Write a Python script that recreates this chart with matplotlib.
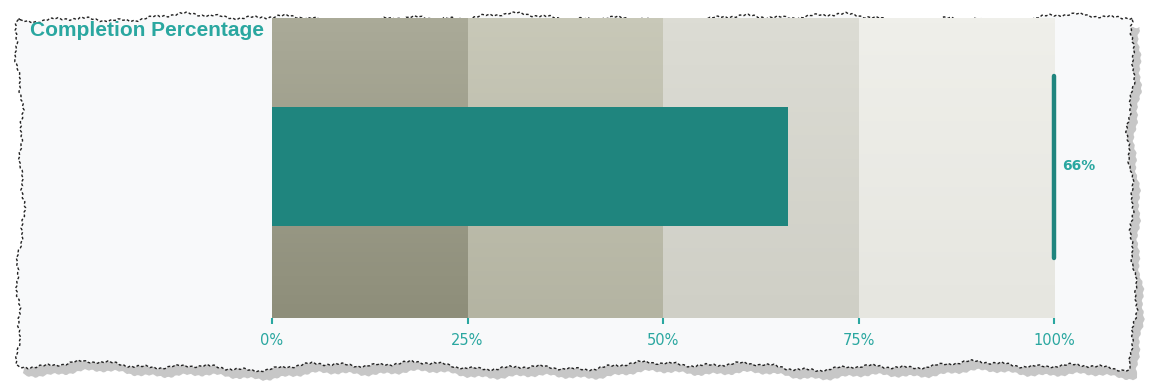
import matplotlib
matplotlib.use('Agg')
import matplotlib.pyplot as plt
import numpy as np
from matplotlib.patches import Polygon

# data
title = 'Completion Percentage'
band_edges = [0, 25, 50, 75, 100]
band_top = ['#aaaa98', '#c8c8b8', '#dcdcd4', '#efefea']
band_bottom = ['#8e8e7a', '#b4b4a2', '#cfcfc6', '#e6e6e0']
value = 66
target = 100
tick_values = [0, 25, 50, 75, 100]
tick_labels = ['0%', '25%', '50%', '75%', '100%']

TEAL = '#1f857e'
TEXT = '#2aa7a0'

W, H = 1151, 392
fig = plt.figure(figsize=(W / 100, H / 100), dpi=100)
fig.patch.set_facecolor('white')


def wiggle(t, seed):
    """Deterministic jagged edge for the torn-paper frame."""
    return (2.5 * np.sin(t * 0.021 + seed) + 2.0 * np.sin(t * 0.057 + 2 * seed)
            + 1.2 * np.sin(t * 0.19 + 3 * seed) + 0.8 * np.sin(t * 0.83 + seed))


def frame_path(x0, y0, x1, y1):
    xs = np.arange(x0, x1, 2.0)
    ys = np.arange(y0, y1, 2.0)
    top = np.column_stack([xs, y0 + wiggle(xs, 0.3)])
    right = np.column_stack([x1 + wiggle(ys, 1.7), ys])
    bottom = np.column_stack([xs[::-1], y1 + wiggle(xs[::-1], 2.9)])
    left = np.column_stack([x0 + wiggle(ys[::-1], 4.1), ys[::-1]])
    pts = np.vstack([top, right, bottom, left])
    pts[:, 0] /= W
    pts[:, 1] = 1 - pts[:, 1] / H
    return pts


pts = frame_path(20, 18, 1132, 366)
shadow = pts.copy()
shadow[:, 0] += 7 / W
shadow[:, 1] -= 9 / H
fig.patches.append(Polygon(shadow, closed=True, transform=fig.transFigure,
                           facecolor='#9a9a9a', edgecolor='none', alpha=0.55, zorder=-2))
fig.patches.append(Polygon(pts, closed=True, transform=fig.transFigure,
                           facecolor='#f8f9fa', edgecolor='#222222', linewidth=1.0,
                           linestyle=(0, (2, 1.5)), zorder=-1))

ax = fig.add_axes([272 / W, 1 - 318 / H, (1054 - 272) / W, 300 / H])
ax.set_zorder(5)
ax.set_facecolor('none')
ax.set_xlim(0, 100)
ax.set_ylim(0, 1)

for i in range(len(band_edges) - 1):
    c0 = np.array(matplotlib.colors.to_rgb(band_top[i]))
    c1 = np.array(matplotlib.colors.to_rgb(band_bottom[i]))
    grad = np.linspace(0, 1, 64)[:, None, None]
    img = c0 * (1 - grad) + c1 * grad
    ax.imshow(img, extent=[band_edges[i], band_edges[i + 1], 0, 1],
              aspect='auto', origin='upper', zorder=1)

ax.barh(0.505, value, height=0.397, left=0, color=TEAL, zorder=3)
ax.plot([target, target], [0.2, 0.807], color=TEAL, linewidth=3.2,
        solid_capstyle='round', zorder=4, clip_on=False)
ax.annotate(f'{value}%', xy=(target, 0.505), xytext=(6, 0), textcoords='offset points',
            ha='left', va='center', color=TEXT, fontsize=10, fontweight='bold',
            family='DejaVu Sans', annotation_clip=False)

ax.set_xticks(tick_values)
ax.set_xticklabels(tick_labels, color=TEXT, fontsize=10.5, family='DejaVu Sans')
ax.tick_params(axis='x', colors=TEXT, length=4, width=1.5, pad=7)
ax.set_yticks([])
for s in ax.spines.values():
    s.set_visible(False)

fig.text(30 / W, 1 - 30 / H, title, color=TEXT, fontsize=15, fontweight='bold',
         family='Liberation Sans', ha='left', va='center', zorder=6)

fig.savefig('out.png', dpi=100)
